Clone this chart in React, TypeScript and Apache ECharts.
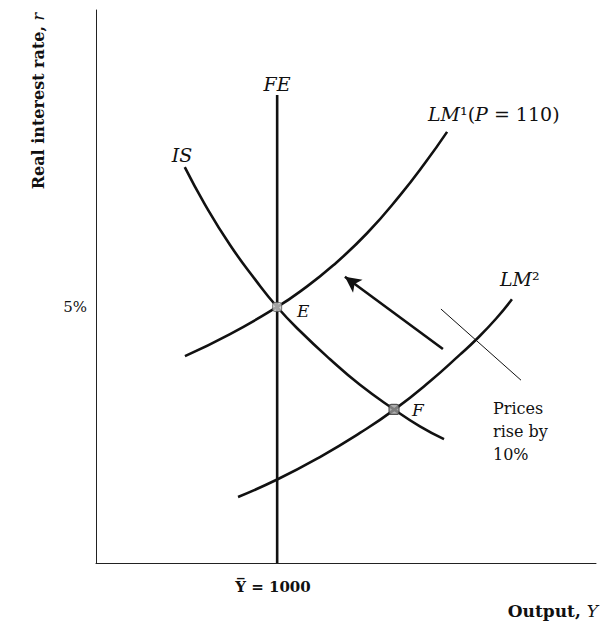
import React, { useEffect, useRef } from "react";
import * as echarts from "echarts";

// Output (Y) and real interest rate (r, %)
const isY = [490, 600, 740, 880, 1000, 1126, 1292, 1457, 1645, 1788, 1921];
const isR = [7.73, 7.01, 6.21, 5.53, 5.0, 4.53, 3.98, 3.48, 3.0, 2.67, 2.42];

const lm1Y = [491, 740, 1000, 1126, 1308, 1496, 1678, 1816, 1938];
const lm1R = [4.04, 4.47, 5.0, 5.3, 5.81, 6.44, 7.18, 7.81, 8.42];

const lm2Y = [784, 1000, 1236, 1457, 1645, 1844, 2009, 2103, 2208, 2296];
const lm2R = [1.29, 1.63, 2.07, 2.54, 2.99, 3.55, 4.07, 4.38, 4.77, 5.15];

const feY = [1000, 1000];
const feR = [0, 9.14];

const arrowFrom = [1915, 4.18];
const arrowTo = [1374, 5.59];

const noteLineY = [1904, 2346];
const noteLineR = [4.96, 3.57];

const pointE = [1000, 5.0];
const pointF = [1645, 3.0];

const X_MAX = 2760;
const R_MAX = 10.8;

const FONT = "'DejaVu Serif', 'Liberation Serif', serif";

function zip(a: number[], b: number[]) {
  return a.map((v, i) => [v, b[i]]);
}

export default function App() {
  const ref = useRef<HTMLDivElement>(null);

  useEffect(() => {
    document.body.style.margin = "0";
    const chart = echarts.init(ref.current!, undefined, { renderer: "svg" });
    const curve = (data: number[][]) => ({
      type: "line",
      data,
      smooth: 0.5,
      showSymbol: false,
      symbol: "none",
      silent: true,
      lineStyle: { color: "#111", width: 2.6 },
      z: 3,
    });
    const italic = { fontFamily: FONT, fontStyle: "italic", fontSize: 19, fill: "#111" };
    const normal = { fontFamily: FONT, fontSize: 19, fill: "#111" };

    chart.setOption({
      animation: false,
      backgroundColor: "#fff",
      grid: { left: 96, right: 11, top: 10, bottom: 60 },
      xAxis: {
        type: "value",
        min: 0,
        max: X_MAX,
        axisLine: { show: true, lineStyle: { color: "#222", width: 1 } },
        axisTick: { show: false },
        axisLabel: { show: false },
        splitLine: { show: false },
      },
      yAxis: {
        type: "value",
        min: 0,
        max: R_MAX,
        axisLine: { show: true, lineStyle: { color: "#222", width: 1 } },
        axisTick: { show: false },
        axisLabel: { show: false },
        splitLine: { show: false },
      },
      series: [
        { name: "IS", ...curve(zip(isY, isR)) },
        { name: "LM1", ...curve(zip(lm1Y, lm1R)) },
        { name: "LM2", ...curve(zip(lm2Y, lm2R)) },
        {
          name: "FE",
          type: "line",
          data: zip(feY, feR),
          symbol: "none",
          silent: true,
          lineStyle: { color: "#111", width: 2.6 },
          z: 3,
        },
        {
          name: "note",
          type: "line",
          data: zip(noteLineY, noteLineR),
          symbol: "none",
          silent: true,
          lineStyle: { color: "#111", width: 1 },
        },
        {
          name: "arrow",
          type: "line",
          data: [],
          silent: true,
          markLine: {
            silent: true,
            animation: false,
            symbol: ["none", "arrow"],
            symbolSize: [12, 16],
            label: { show: false },
            lineStyle: { color: "#111", width: 2.6, type: "solid" },
            data: [[{ coord: arrowFrom }, { coord: arrowTo }]],
          },
        },
        {
          name: "E",
          type: "scatter",
          data: [pointE],
          symbol: "roundRect",
          symbolSize: 9,
          silent: true,
          itemStyle: { color: "#c8c8c8", borderColor: "#555", borderWidth: 1 },
          z: 5,
        },
        {
          name: "F",
          type: "scatter",
          data: [pointF],
          symbol: "roundRect",
          symbolSize: 10,
          silent: true,
          itemStyle: { color: "#999", borderColor: "#333", borderWidth: 1.2 },
          z: 5,
        },
      ],
      graphic: [
        {
          type: "text",
          x: 38,
          y: 101,
          rotation: Math.PI / 2,
          style: {
            text: "{b|Real interest rate, }{i|r}",
            align: "center",
            verticalAlign: "middle",
            rich: {
              b: { fontFamily: FONT, fontWeight: "bold", fontSize: 16, fill: "#111" },
              i: { fontFamily: FONT, fontStyle: "italic", fontSize: 16, fill: "#111" },
            },
          },
        },
        {
          type: "text",
          x: 87,
          y: 307,
          style: {
            text: "5%",
            fontFamily: FONT,
            fontSize: 15,
            fill: "#111",
            align: "right",
            verticalAlign: "middle",
          },
        },
        {
          type: "text",
          x: 277,
          y: 84,
          style: { text: "FE", ...italic, align: "center", verticalAlign: "middle" },
        },
        {
          type: "text",
          x: 182,
          y: 155,
          style: { text: "IS", ...italic, align: "center", verticalAlign: "middle" },
        },
        {
          type: "text",
          x: 428,
          y: 114,
          style: {
            text: "{i|LM}{n|¹(}{i|P}{n| = 110)}",
            align: "left",
            verticalAlign: "middle",
            rich: { i: italic, n: normal },
          },
        },
        {
          type: "text",
          x: 500,
          y: 279,
          style: {
            text: "{i|LM}{n|²}",
            align: "left",
            verticalAlign: "middle",
            rich: { i: italic, n: normal },
          },
        },
        {
          type: "text",
          x: 297,
          y: 311,
          style: { text: "E", ...italic, fontSize: 17, align: "left", verticalAlign: "middle" },
        },
        {
          type: "text",
          x: 412,
          y: 410,
          style: { text: "F", ...italic, fontSize: 17, align: "left", verticalAlign: "middle" },
        },
        {
          type: "text",
          x: 493,
          y: 397,
          style: {
            text: "Prices\nrise by\n10%",
            fontFamily: FONT,
            fontSize: 16,
            lineHeight: 23,
            fill: "#111",
            align: "left",
            verticalAlign: "top",
          },
        },
        {
          type: "text",
          x: 273,
          y: 587,
          style: {
            text: "Y\u0305 = 1000",
            fontFamily: FONT,
            fontWeight: "bold",
            fontSize: 15,
            fill: "#111",
            align: "center",
            verticalAlign: "middle",
          },
        },
        {
          type: "text",
          x: 598,
          y: 611,
          style: {
            text: "{b|Output, }{y|Y}",
            align: "right",
            verticalAlign: "middle",
            rich: {
              b: { fontFamily: FONT, fontWeight: "bold", fontSize: 17, fill: "#111" },
              y: { fontFamily: FONT, fontStyle: "italic", fontSize: 17, fill: "#111" },
            },
          },
        },
      ],
    });
    return () => chart.dispose();
  }, []);

  return <div ref={ref} style={{ width: 607, height: 623 }} />;
}
